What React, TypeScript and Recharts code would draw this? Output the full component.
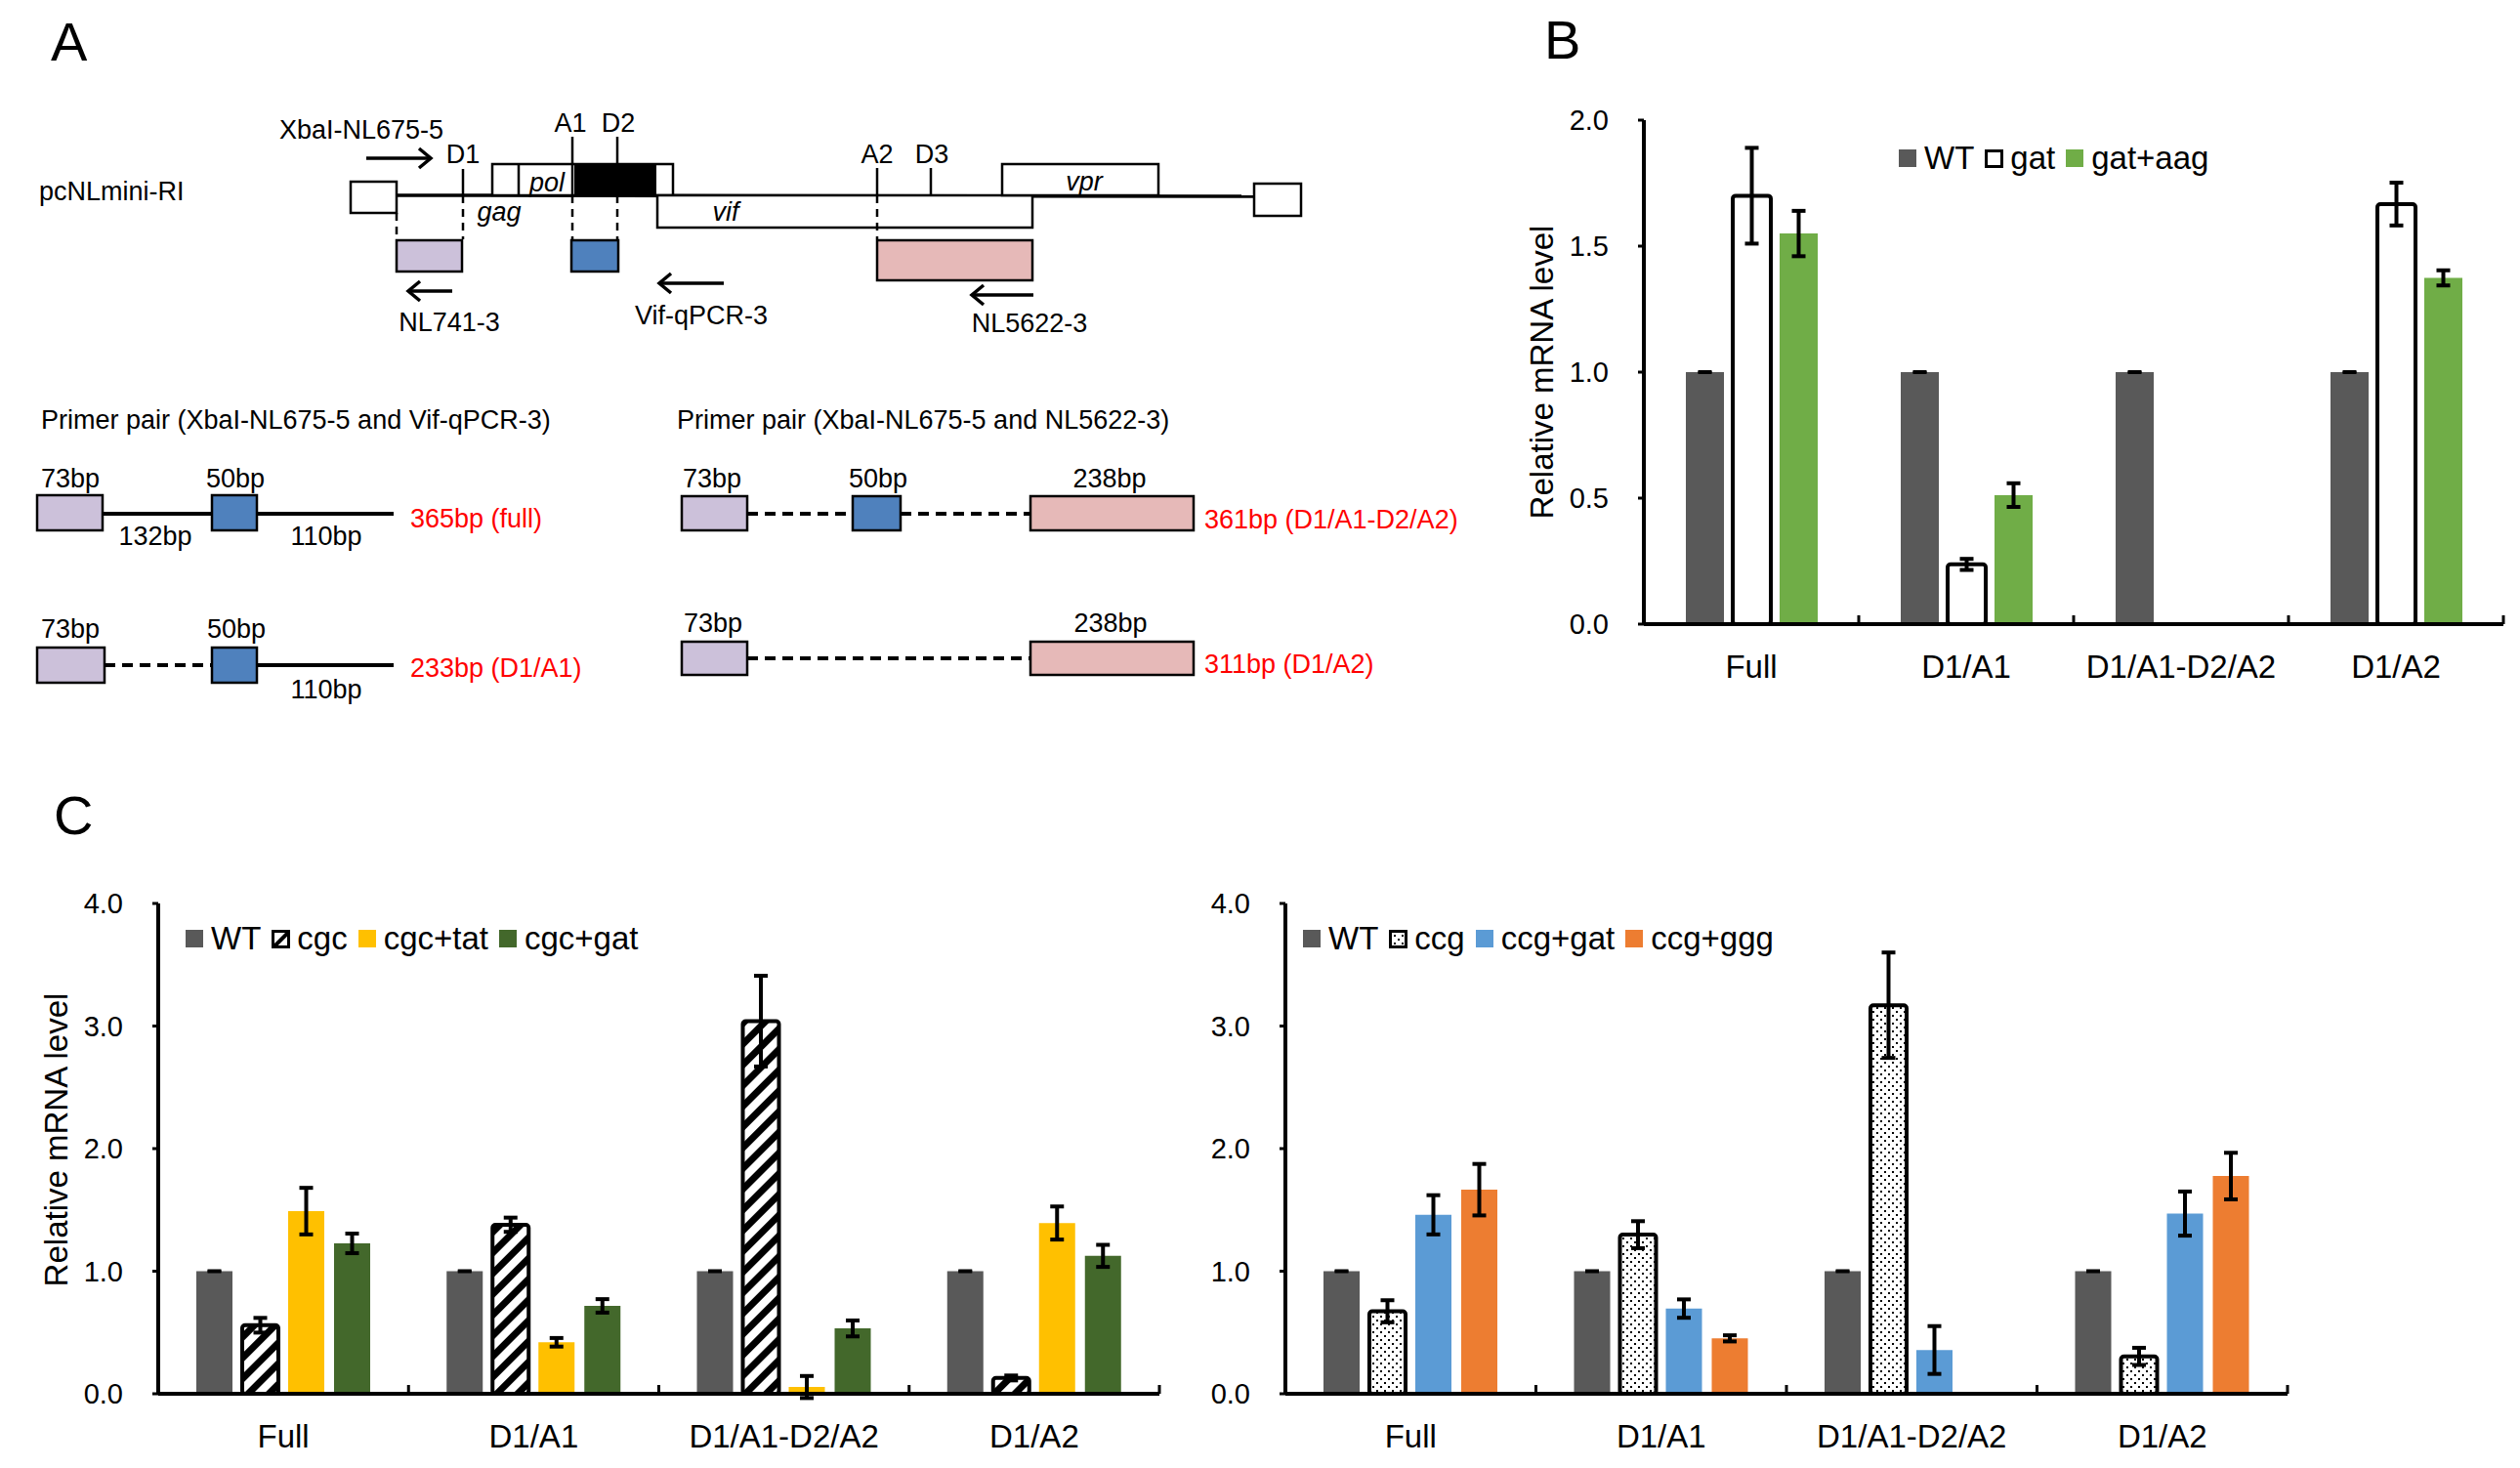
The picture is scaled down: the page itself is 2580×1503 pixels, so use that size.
import React from 'react'
import { BarChart, Bar, XAxis, YAxis, ErrorBar, Legend, Label } from 'recharts'

const FONT = '"Liberation Sans", Arial, Helvetica, sans-serif'

// categories shared by all three charts
const categories = ['Full', 'D1/A1', 'D1/A1-D2/A2', 'D1/A2']

// panel B
const bWT = [1, 1, 1, 1]
const bWTErr = [0.002, 0.002, 0.002, 0.002]
const bGat = [1.7, 0.237, null, 1.667]
const bGatErr = [0.19, 0.022, null, 0.085]
const bGatAag = [1.55, 0.512, null, 1.374]
const bGatAagErr = [0.09, 0.047, null, 0.03]
const bTicks = [0, 0.5, 1, 1.5, 2]

// panel C, left
const cWT = [1, 1, 1, 1]
const cWTErr = [0.004, 0.004, 0.004, 0.004]
const cCgc = [0.559, 1.379, 3.04, 0.129]
const cCgcErr = [0.06, 0.058, 0.37, 0.02]
const cCgcTat = [1.49, 0.42, 0.055, 1.393]
const cCgcTatErr = [0.19, 0.035, 0.09, 0.135]
const cCgcGat = [1.227, 0.717, 0.533, 1.125]
const cCgcGatErr = [0.08, 0.055, 0.065, 0.09]

// panel C, right
const dCcg = [0.673, 1.298, 3.17, 0.305]
const dCcgErr = [0.09, 0.11, 0.43, 0.07]
const dCcgGat = [1.46, 0.695, 0.357, 1.47]
const dCcgGatErr = [0.16, 0.075, 0.195, 0.18]
const dCcgGgg = [1.665, 0.452, null, 1.776]
const dCcgGggErr = [0.21, 0.025, null, 0.19]
const cTicks = [0, 1, 2, 3, 4]

type Series = {
  key: string
  label: string
  values: (number | null)[]
  errors: (number | null)[]
  fill: string
  icon: string
  outlined?: boolean
}

const seriesB: Series[] = [
  { key: 'wt', label: 'WT', values: bWT, errors: bWTErr, fill: '#595959', icon: '#595959' },
  { key: 'gat', label: 'gat', values: bGat, errors: bGatErr, fill: '#fff', icon: '#fff', outlined: true },
  { key: 'gataag', label: 'gat+aag', values: bGatAag, errors: bGatAagErr, fill: '#70AD47', icon: '#70AD47' },
]

const seriesCL: Series[] = [
  { key: 'wt', label: 'WT', values: cWT, errors: cWTErr, fill: '#595959', icon: '#595959' },
  { key: 'cgc', label: 'cgc', values: cCgc, errors: cCgcErr, fill: 'url(#hatch)', icon: 'url(#hatchIcon)', outlined: true },
  { key: 'cgctat', label: 'cgc+tat', values: cCgcTat, errors: cCgcTatErr, fill: '#FFC000', icon: '#FFC000' },
  { key: 'cgcgat', label: 'cgc+gat', values: cCgcGat, errors: cCgcGatErr, fill: '#43682B', icon: '#43682B' },
]

const seriesCR: Series[] = [
  { key: 'wt', label: 'WT', values: cWT, errors: cWTErr, fill: '#595959', icon: '#595959' },
  { key: 'ccg', label: 'ccg', values: dCcg, errors: dCcgErr, fill: 'url(#dots)', icon: 'url(#dots)', outlined: true },
  { key: 'ccggat', label: 'ccg+gat', values: dCcgGat, errors: dCcgGatErr, fill: '#5B9BD5', icon: '#5B9BD5' },
  { key: 'ccgggg', label: 'ccg+ggg', values: dCcgGgg, errors: dCcgGggErr, fill: '#ED7D31', icon: '#ED7D31' },
]

const CatTick = (props: any) => {
  const { x, payload, axisY, band } = props
  return (
    <g>
      <text x={x} y={axisY + 55} textAnchor="middle" fontSize={33} fontFamily={FONT} fill="#000">
        {payload.value}
      </text>
      <line x1={x + band / 2} x2={x + band / 2} y1={axisY} y2={axisY - 9} stroke="#000" strokeWidth={3} />
    </g>
  )
}

const LegendRow = ({ items }: { items: Series[] }) => (
  <div style={{ display: 'flex', alignItems: 'center', fontFamily: FONT, fontSize: 33, lineHeight: '38px', whiteSpace: 'nowrap', color: '#000' }}>
    {items.map((it) => (
      <div key={it.key} style={{ display: 'flex', alignItems: 'center', marginRight: 11 }}>
        <svg width={19} height={19} style={{ marginRight: 7 }}>
          {it.outlined ? (
            <rect x={1.5} y={1.5} width={16} height={16} fill={it.icon} stroke="#000" strokeWidth={3} />
          ) : (
            <rect x={0} y={0} width={18} height={18} fill={it.icon} />
          )}
        </svg>
        <span>{it.label}</span>
      </div>
    ))}
  </div>
)

type ChartProps = {
  left: number
  top: number
  width: number
  height: number
  margin: { top: number; right: number; bottom: number; left: number }
  series: Series[]
  ticks: number[]
  barSize: number
  barGap: number
  legendLeft: number
  legendTop: number
  title?: boolean
  titleDy?: number
}

const RelativeChart = ({ left, top, width, height, margin, series, ticks, barSize, barGap, legendLeft, legendTop, title, titleDy = 0 }: ChartProps) => {
  const data = categories.map((name, i) => {
    const row: any = { name }
    series.forEach((s) => {
      row[s.key] = s.values[i]
      row[s.key + 'Err'] = s.errors[i]
    })
    return row
  })
  const plotW = width - margin.left - margin.right - 60
  const plotH = height - margin.top - margin.bottom - 60
  const axisY = margin.top + plotH
  return (
    <div style={{ position: 'absolute', left, top, width, height }}>
      <BarChart width={width} height={height} data={data} margin={margin} barSize={barSize} barGap={barGap}>
        <XAxis
          dataKey="name"
          height={60}
          axisLine={{ stroke: '#000', strokeWidth: 4 }}
          tickLine={false}
          interval={0}
          tick={<CatTick axisY={axisY} band={plotW / categories.length} />}
        />
        <YAxis
          width={60}
          domain={[0, ticks[ticks.length - 1]]}
          ticks={ticks}
          interval={0}
          allowDataOverflow
          tickFormatter={(v: number) => v.toFixed(1)}
          axisLine={{ stroke: '#000', strokeWidth: 4 }}
          tickLine={{ stroke: '#000', strokeWidth: 3 }}
          tickSize={6}
          tickMargin={30}
          tick={{ fontSize: 29, fill: '#000', fontFamily: FONT }}
        >
          {title && (
            <Label
              content={(p: any) => {
                const vb = p.viewBox || { x: margin.left, y: margin.top, height: plotH }
                const cx = vb.x - 45
                const cy = vb.y + vb.height / 2 + titleDy
                return (
                  <text x={cx} y={cy} transform={`rotate(-90, ${cx}, ${cy})`} textAnchor="middle" dominantBaseline="central" fontSize={33} fontFamily={FONT} fill="#000">
                    Relative mRNA level
                  </text>
                )
              }}
            />
          )}
        </YAxis>
        <Legend
          layout="horizontal"
          verticalAlign="middle"
          align="center"
          wrapperStyle={{ left: legendLeft, top: legendTop, width: 'auto', height: 'auto' }}
          content={() => <LegendRow items={series} />}
        />
        {series.map((s) => (
          <Bar
            key={s.key}
            dataKey={s.key}
            name={s.label}
            fill={s.fill}
            stroke={s.outlined ? '#000' : undefined}
            strokeWidth={s.outlined ? 4 : 0}
            radius={s.outlined ? 3 : 0}
            isAnimationActive={false}
          >
            <ErrorBar dataKey={s.key + 'Err'} direction="y" width={7} stroke="#000" strokeWidth={s.key === 'wt' ? 3 : 4} />
          </Bar>
        ))}
      </BarChart>
    </div>
  )
}

const T = (p: any) => <text fontFamily={FONT} fontSize={27} fill="#000" {...p} />

const arrowR = (x1: number, x2: number, y: number) => (
  <g stroke="#000" strokeWidth={3.5} fill="none">
    <line x1={x1} y1={y} x2={x2} y2={y} />
    <polyline points={`${x2 - 12},${y - 10} ${x2},${y} ${x2 - 12},${y + 10}`} />
  </g>
)
const arrowL = (x1: number, x2: number, y: number) => (
  <g stroke="#000" strokeWidth={3.5} fill="none">
    <line x1={x1} y1={y} x2={x2} y2={y} />
    <polyline points={`${x1 + 12},${y - 10} ${x1},${y} ${x1 + 12},${y + 10}`} />
  </g>
)

const LAV = '#CCC1DA'
const BLUE = '#4F81BD'
const PINK = '#E6B9B8'

const PanelA = () => {
  const box = { stroke: '#000', strokeWidth: 2.5 }
  const dash = { stroke: '#000', strokeWidth: 2.5, strokeDasharray: '8 6' }
  const solid = { stroke: '#000', strokeWidth: 2.5 }
  const thick = { stroke: '#000', strokeWidth: 4 }
  const thickDash = { stroke: '#000', strokeWidth: 4, strokeDasharray: '11 7' }
  return (
    <g>
      <text x={52} y={62} fontFamily={FONT} fontSize={56} fill="#000">A</text>
      <T x={40} y={205}>pcNLmini-RI</T>

      {/* genome map */}
      <line x1={406} y1={200} x2={1284} y2={201} stroke="#000" strokeWidth={3.5} />
      <rect x={359} y={186} width={47} height={32} fill="#fff" {...box} />
      <rect x={1284} y={188} width={48} height={33} fill="#fff" {...box} />
      <rect x={504} y={168} width={185} height={32} fill="#fff" {...box} />
      <line x1={531} y1={168} x2={531} y2={200} {...solid} />
      <rect x={588} y={168} width={84} height={32} fill="#000" />
      <rect x={673} y={200} width={384} height={33} fill="#fff" {...box} />
      <rect x={1026} y={168} width={160} height={32} fill="#fff" {...box} />
      <T x={560} y={196} textAnchor="middle" fontStyle="italic">pol</T>
      <T x={511} y={226} textAnchor="middle" fontStyle="italic">gag</T>
      <T x={743} y={226} textAnchor="middle" fontStyle="italic">vif</T>
      <T x={1110} y={195} textAnchor="middle" fontStyle="italic">vpr</T>

      {/* splice sites */}
      <line x1={474} y1={173} x2={474} y2={200} {...solid} />
      <line x1={474} y1={200} x2={474} y2={245} {...dash} />
      <line x1={406} y1={218} x2={406} y2={245} {...dash} />
      <line x1={586} y1={140} x2={586} y2={200} {...solid} />
      <line x1={586} y1={200} x2={586} y2={245} {...dash} />
      <line x1={632} y1={140} x2={632} y2={168} {...solid} />
      <line x1={632} y1={200} x2={632} y2={245} {...dash} />
      <line x1={898} y1={172} x2={898} y2={200} {...solid} />
      <line x1={898} y1={200} x2={898} y2={245} {...dash} />
      <line x1={953} y1={172} x2={953} y2={200} {...solid} />
      <T x={474} y={167} textAnchor="middle">D1</T>
      <T x={584} y={135} textAnchor="middle">A1</T>
      <T x={633} y={135} textAnchor="middle">D2</T>
      <T x={898} y={167} textAnchor="middle">A2</T>
      <T x={954} y={167} textAnchor="middle">D3</T>

      {/* amplicons */}
      <rect x={406} y={246} width={67} height={32} fill={LAV} {...box} />
      <rect x={585} y={246} width={48} height={32} fill={BLUE} {...box} />
      <rect x={898} y={246} width={159} height={41} fill={PINK} {...box} />

      {/* primers */}
      {arrowR(375, 441, 162)}
      <T x={286} y={142}>XbaI-NL675-5</T>
      {arrowL(418, 463, 298)}
      <T x={460} y={339} textAnchor="middle">NL741-3</T>
      {arrowL(675, 741, 290)}
      <T x={718} y={332} textAnchor="middle">Vif-qPCR-3</T>
      {arrowL(995, 1058, 302)}
      <T x={1054} y={340} textAnchor="middle">NL5622-3</T>

      {/* primer pair 1 */}
      <T x={42} y={439}>Primer pair (XbaI-NL675-5 and Vif-qPCR-3)</T>
      <line x1={105} y1={526} x2={217} y2={526} {...thick} />
      <line x1={263} y1={526} x2={403} y2={526} {...thick} />
      <rect x={38} y={507} width={67} height={36} fill={LAV} {...box} />
      <rect x={217} y={507} width={46} height={36} fill={BLUE} {...box} />
      <T x={72} y={499} textAnchor="middle">73bp</T>
      <T x={241} y={499} textAnchor="middle">50bp</T>
      <T x={159} y={558} textAnchor="middle">132bp</T>
      <T x={334} y={558} textAnchor="middle">110bp</T>
      <T x={420} y={540} fill="#FF0000">365bp (full)</T>

      <line x1={107} y1={681} x2={217} y2={681} {...thickDash} />
      <line x1={263} y1={681} x2={403} y2={681} {...thick} />
      <rect x={38} y={663} width={69} height={36} fill={LAV} {...box} />
      <rect x={217} y={663} width={46} height={36} fill={BLUE} {...box} />
      <T x={72} y={653} textAnchor="middle">73bp</T>
      <T x={242} y={653} textAnchor="middle">50bp</T>
      <T x={334} y={715} textAnchor="middle">110bp</T>
      <T x={420} y={693} fill="#FF0000">233bp (D1/A1)</T>

      {/* primer pair 2 */}
      <T x={693} y={439}>Primer pair (XbaI-NL675-5 and NL5622-3)</T>
      <line x1={765} y1={526} x2={873} y2={526} {...thickDash} />
      <line x1={922} y1={526} x2={1055} y2={526} {...thickDash} />
      <rect x={698} y={508} width={67} height={35} fill={LAV} {...box} />
      <rect x={873} y={508} width={49} height={35} fill={BLUE} {...box} />
      <rect x={1055} y={508} width={167} height={35} fill={PINK} {...box} />
      <T x={729} y={499} textAnchor="middle">73bp</T>
      <T x={899} y={499} textAnchor="middle">50bp</T>
      <T x={1136} y={499} textAnchor="middle">238bp</T>
      <T x={1233} y={541} fill="#FF0000">361bp (D1/A1-D2/A2)</T>

      <line x1={765} y1={674} x2={1055} y2={674} {...thickDash} />
      <rect x={698} y={657} width={67} height={34} fill={LAV} {...box} />
      <rect x={1055} y={657} width={167} height={34} fill={PINK} {...box} />
      <T x={730} y={647} textAnchor="middle">73bp</T>
      <T x={1137} y={647} textAnchor="middle">238bp</T>
      <T x={1233} y={689} fill="#FF0000">311bp (D1/A2)</T>
    </g>
  )
}

export default function App() {
  return (
    <div style={{ position: 'absolute', left: 0, top: 0, width: 2580, height: 1503, background: '#fff', overflow: 'hidden' }}>
      <svg width={2580} height={1503} style={{ position: 'absolute', left: 0, top: 0 }}>
        <defs>
          <pattern id="hatch" width={15} height={15} patternUnits="userSpaceOnUse" patternTransform="rotate(45)">
            <rect width={15} height={15} fill="#fff" />
            <rect width={7} height={15} fill="#000" />
          </pattern>
          <pattern id="hatchIcon" width={12} height={12} patternUnits="userSpaceOnUse" patternTransform="rotate(45)">
            <rect width={12} height={12} fill="#fff" />
            <rect width={4} height={12} fill="#000" />
          </pattern>
          <pattern id="dots" width={8} height={8} patternUnits="userSpaceOnUse">
            <rect width={8} height={8} fill="#fff" />
            <rect x={1} y={1} width={2} height={2} fill="#000" />
            <rect x={5} y={5} width={2} height={2} fill="#000" />
          </pattern>
        </defs>
        <PanelA />
        <text x={1581} y={60} fontFamily={FONT} fontSize={56} fill="#000">B</text>
        <text x={55} y={854} fontFamily={FONT} fontSize={56} fill="#000">C</text>
      </svg>

      <RelativeChart
        left={1560}
        top={60}
        width={1020}
        height={660}
        margin={{ top: 63, right: 17, bottom: 21, left: 63 }}
        series={seriesB}
        ticks={bTicks}
        barSize={39}
        barGap={9}
        legendLeft={384}
        legendTop={83}
        title
      />
      <RelativeChart
        left={0}
        top={870}
        width={1230}
        height={633}
        margin={{ top: 55, right: 43, bottom: 16, left: 102 }}
        series={seriesCL}
        ticks={cTicks}
        barSize={37}
        barGap={10}
        legendLeft={190}
        legendTop={72}
        title
        titleDy={-9}
      />
      <RelativeChart
        left={1240}
        top={870}
        width={1130}
        height={633}
        margin={{ top: 55, right: 28, bottom: 16, left: 16 }}
        series={seriesCR}
        ticks={cTicks}
        barSize={37}
        barGap={10}
        legendLeft={94}
        legendTop={72}
      />
    </div>
  )
}
